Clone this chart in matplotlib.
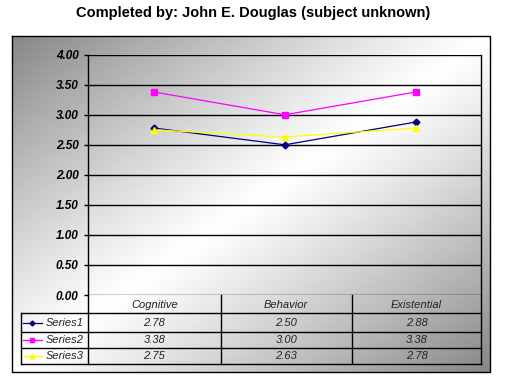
import numpy as np
import matplotlib
matplotlib.use('Agg')
import matplotlib.pyplot as plt

plt.rcParams['font.family'] = ['Liberation Sans', 'DejaVu Sans']

title = 'Completed by: John E. Douglas (subject unknown)'
categories = ['Cognitive', 'Behavior', 'Existential']
series_names = ['Series1', 'Series2', 'Series3']
series1 = [2.78, 2.50, 2.88]
series2 = [3.38, 3.00, 3.38]
series3 = [2.75, 2.63, 2.78]
yticks = [0.0, 0.5, 1.0, 1.5, 2.0, 2.5, 3.0, 3.5, 4.0]

colors = ['#000080', '#FF00FF', '#FFFF00']
markers = ['D', 's', '^']
msizes = [3.5, 4.5, 4.5]

W, H = 506, 389
fig = plt.figure(figsize=(W / 100, H / 100), dpi=100)

# background / chart-area layer in pixel coords
bg = fig.add_axes([0, 0, 1, 1])
bg.set_xlim(0, W)
bg.set_ylim(H, 0)
bg.axis('off')

cx0, cx1, cy0, cy1 = 12, 490, 36, 372
gx, gy = np.meshgrid(np.linspace(0, 1, 300), np.linspace(0, 1, 200))
t = (gx + gy) / 2
v = 1 - 0.47 * np.abs(2 * t - 1) ** 1.1
bg.imshow(v, cmap='gray', vmin=0, vmax=1, extent=(cx0, cx1, cy1, cy0),
          aspect='auto', interpolation='bilinear', zorder=0)
bg.plot([cx0, cx1, cx1, cx0, cx0], [cy0, cy0, cy1, cy1, cy0], color='black', lw=1.0, zorder=2)

fig.text(0.5, 1 - 13 / H, title, ha='center', va='center', fontsize=10.5, fontweight='bold')

# plot area
left, right, top, bottom = 88.3, 481.5, 54.7, 295
ax = fig.add_axes([left / W, 1 - bottom / H, (right - left) / W, (bottom - top) / H])
ax.patch.set_alpha(0)
x = np.arange(len(categories))
for vals, c, m, ms in zip([series1, series2, series3], colors, markers, msizes):
    ax.plot(x, vals, color=c, marker=m, markersize=ms, lw=0.9, zorder=3)
ax.set_xlim(-0.5, len(categories) - 0.5)
ax.set_ylim(0, 4)
ax.set_yticks(yticks)
ax.set_yticklabels(['%.2f' % y for y in yticks], fontsize=8.5, fontweight='bold', style='italic')
for y in yticks:
    ax.axhline(y, color='black', lw=1.0, zorder=1)
ax.set_xticks([])
ax.tick_params(axis='y', length=3, width=1, pad=4)
for s in ['top', 'bottom']:
    ax.spines[s].set_visible(False)
ax.spines['left'].set_linewidth(1.0)
ax.spines['right'].set_linewidth(1.0)

# data table below plot
cols = [88.3, 220.7, 351.7, 481.5]
rows = [295, 313.3, 331.7, 347.7, 364]
lab_x0 = 20.7
txt_col = '#222222'
lw = 1.0
for xc in cols:
    bg.plot([xc, xc], [rows[0], rows[-1]], color='black', lw=lw, zorder=2)
for yr in rows[1:]:
    bg.plot([lab_x0, cols[-1]], [yr, yr], color='black', lw=lw, zorder=2)
bg.plot([lab_x0, lab_x0], [rows[1], rows[-1]], color='black', lw=lw, zorder=2)
for i, cat in enumerate(categories):
    bg.text((cols[i] + cols[i + 1]) / 2, (rows[0] + rows[1]) / 2 + 0.5, cat,
            ha='center', va='center', fontsize=8, style='italic', color=txt_col)
for r, (name, vals, c, m, ms) in enumerate(zip(series_names, [series1, series2, series3],
                                               colors, markers, msizes)):
    yc = (rows[r + 1] + rows[r + 2]) / 2
    bg.plot([23, 42], [yc, yc], color=c, lw=0.9, zorder=3)
    bg.plot([32.5], [yc], color=c, marker=m, markersize=ms - 1, zorder=3)
    bg.text(46, yc + 0.5, name, ha='left', va='center', fontsize=8, style='italic', color=txt_col)
    for i, val in enumerate(vals):
        bg.text((cols[i] + cols[i + 1]) / 2, yc + 0.5, '%.2f' % val,
                ha='center', va='center', fontsize=8, style='italic', color=txt_col)

fig.savefig('out.png', dpi=100)
